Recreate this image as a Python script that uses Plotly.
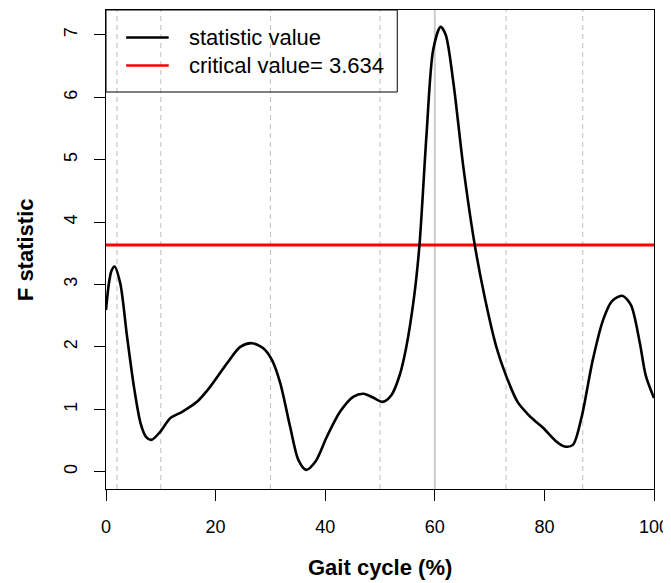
import plotly.graph_objects as go

# Gait cycle (%) and F statistic values
gait_pct = [0, 0.5, 1.0, 1.55, 2.6, 3.85, 5.1, 6.3, 7.3, 8.3, 9.9, 11.75, 13.9, 16.6,
            19.0, 22.1, 24.5, 26.6, 28.7, 30.3, 31.8, 33.6, 35.1, 36.5, 38.2, 40.3,
            42.7, 45.1, 47.0, 48.7, 50.5, 52.1, 53.6, 54.8, 56.2, 57.2, 58.5, 59.7,
            61.05, 62.0, 63.4, 65.2, 67.3, 69.1, 71.2, 73.0, 75.1, 77.0, 78.2, 79.8,
            82.1, 83.7, 85.2, 86.8, 88.8, 90.7, 92.3, 94.2, 95.8, 97.4, 98.5, 100]
f_stat = [2.59, 3.0, 3.22, 3.29, 3.02, 2.16, 1.36, 0.78, 0.56, 0.51, 0.64, 0.86, 0.96, 1.12,
          1.36, 1.74, 2.0, 2.06, 1.98, 1.79, 1.42, 0.72, 0.19, 0.03, 0.16, 0.56,
          0.96, 1.20, 1.25, 1.19, 1.12, 1.23, 1.55, 2.0, 2.79, 3.63, 5.42, 6.76,
          7.13, 7.0, 6.23, 4.89, 3.63, 2.80, 2.01, 1.54, 1.12, 0.92, 0.82, 0.70,
          0.49, 0.405, 0.43, 0.88, 1.78, 2.43, 2.73, 2.82, 2.67, 2.07, 1.54, 1.18]

critical_value = 3.634
dashed_events = [2, 10, 30, 50, 73, 87]
solid_event = 60
x_ticks = [0, 20, 40, 60, 80, 100]
y_ticks = [0, 1, 2, 3, 4, 5, 6, 7]
legend_labels = ["statistic value", "critical value= %.3f" % critical_value]

FONT = "Liberation Sans, Arial, Helvetica, sans-serif"

fig = go.Figure()

for xv in dashed_events:
    fig.add_vline(x=xv, line=dict(color="#bebebe", width=1, dash="5px,4px"), layer="below")
fig.add_vline(x=solid_event, line=dict(color="#cccccc", width=2), layer="below")

fig.add_trace(go.Scatter(x=[0, 100], y=[critical_value, critical_value], mode="lines",
                         line=dict(color="#ff0000", width=3), showlegend=False,
                         name=legend_labels[1]))
fig.add_trace(go.Scatter(x=gait_pct, y=f_stat, mode="lines",
                         line=dict(color="black", width=2.6, shape="spline", smoothing=0.8),
                         showlegend=False, name=legend_labels[0]))

# manual legend (R style box)
fig.add_shape(type="rect", xref="paper", yref="paper", x0=0, x1=0.5315, y0=0.8288, y1=1,
              line=dict(color="black", width=1), fillcolor="rgba(0,0,0,0)")
rows_y = [0.9426, 0.8841]
colors = ["black", "#ff0000"]
for ry, col, lab in zip(rows_y, colors, legend_labels):
    fig.add_shape(type="line", xref="paper", yref="paper", x0=0.0368, x1=0.1144, y0=ry, y1=ry,
                  line=dict(color=col, width=2.6))
    fig.add_annotation(xref="paper", yref="paper", x=0.1485, y=ry, text=lab, showarrow=False,
                       xanchor="left", yanchor="middle", font=dict(size=22, color="black", family=FONT))

# axis titles
fig.add_annotation(xref="paper", yref="paper", x=0.5, y=-0.1649, text="<b>Gait cycle (%)</b>",
                   showarrow=False, xanchor="center", yanchor="middle",
                   font=dict(size=22, color="black", family=FONT))
fig.add_annotation(xref="paper", yref="paper", x=-0.1466, y=0.5, text="<b>F statistic</b>",
                   showarrow=False, textangle=-90, xanchor="center", yanchor="middle",
                   font=dict(size=22, color="black", family=FONT))

# page body has an 8px margin, so the figure is sized/offset to compensate
fig.update_layout(
    width=663, height=575,
    margin=dict(l=97.5, r=16.5, t=2, b=94),
    paper_bgcolor="white", plot_bgcolor="white",
    font=dict(family=FONT, size=18, color="black"),
    xaxis=dict(range=[0, 100], tickvals=x_ticks, showgrid=False, zeroline=False,
               showline=True, linecolor="black", linewidth=1, mirror=True,
               ticks="outside", ticklen=11, tickcolor="black", tickwidth=1,
               ticklabelstandoff=10, tickfont=dict(size=18)),
    yaxis=dict(range=[-0.277, 7.40], tickvals=y_ticks, showgrid=False, zeroline=False,
               showline=True, linecolor="black", linewidth=1, mirror=True,
               ticks="outside", ticklen=11, tickcolor="black", tickwidth=1,
               tickangle=-90, ticklabelstandoff=10, tickfont=dict(size=18)),
)

fig.write_html("out.html")
